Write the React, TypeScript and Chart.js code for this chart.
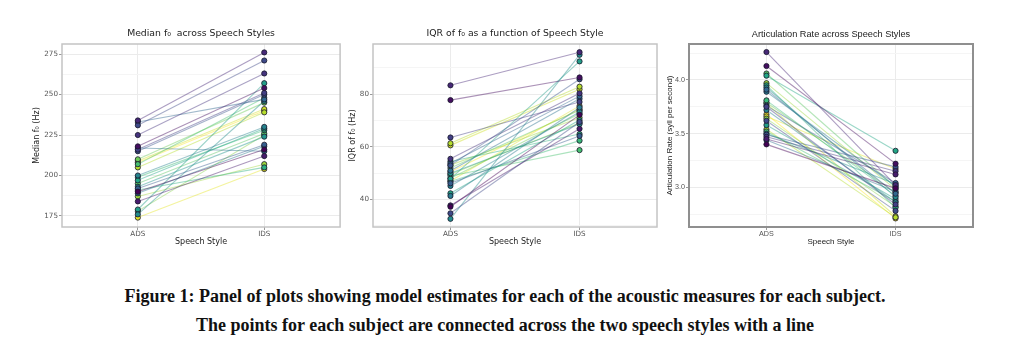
import React, { useEffect, useRef } from 'react';
import { Chart, registerables } from 'chart.js';

Chart.register(...registerables);

// ---------- data ----------
const speechStyles = ['ADS', 'IDS'];

const medianTicks = [175, 200, 225, 250, 275];
const medianMinorTicks = [187.5, 212.5, 237.5, 262.5];
const medianADS = [190, 218, 184, 234, 225, 216, 231, 215, 192, 233, 217, 189, 200, 176, 193, 179, 197, 191, 199, 207, 195, 210, 178, 187, 205, 209, 174, 208];
const medianIDS = [216, 254, 212, 276, 263, 251, 271, 250, 219, 247, 215, 218, 230, 246, 224, 257, 229, 205, 228, 248, 226, 245, 225, 207, 239, 241, 204, 240];

const iqrTicks = [40, 60, 80];
const iqrMinorTicks = [30, 50, 70, 90];
const iqrADS = [37.2, 77.7, 37.7, 83.3, 55.4, 63.5, 34.7, 52.9, 46.1, 53.7, 50.9, 41.3, 45.1, 32.6, 49.9, 47.8, 42.3, 54.4, 46.8, 48.9, 51.9, 48.0, 49.5, 53.0, 61.3, 60.5, 47.0, 50.5];
const iqrIDS = [72.1, 86.3, 66.8, 95.9, 80.3, 77.0, 69.4, 85.6, 64.1, 79.2, 78.2, 74.9, 73.2, 94.9, 68.6, 92.4, 70.1, 64.8, 62.3, 58.7, 73.8, 72.5, 69.0, 71.0, 82.8, 81.8, 75.5, 74.2];

const rateTicks = [3.0, 3.5, 4.0];
const rateMinorTicks = [2.75, 3.25, 3.75, 4.25];
const rateADS = [3.40, 4.13, 3.45, 4.26, 3.47, 3.75, 3.62, 3.49, 3.76, 3.91, 3.44, 3.89, 3.72, 3.93, 3.50, 3.58, 4.04, 3.95, 3.81, 3.52, 4.06, 3.79, 3.64, 3.97, 3.54, 3.78, 3.66, 3.68];
const rateIDS = [2.99, 3.22, 3.12, 3.02, 3.15, 2.84, 2.78, 3.19, 3.04, 2.94, 2.96, 3.01, 2.86, 2.91, 3.03, 2.89, 3.34, 2.81, 2.92, 2.87, 3.00, 2.95, 2.82, 2.98, 2.72, 2.73, 3.17, 2.71];

// ---------- styling helpers ----------
const viridisStops = ['#440154', '#482475', '#414487', '#355f8d', '#2a788e', '#21918c', '#22a884', '#44bf70', '#7ad151', '#bddf26', '#fde725'];

function hexToRgb(h: string) {
  const n = parseInt(h.slice(1), 16);
  return [(n >> 16) & 255, (n >> 8) & 255, n & 255];
}
function viridis(t: number, a = 1) {
  const p = Math.max(0, Math.min(1, t)) * (viridisStops.length - 1);
  const i = Math.min(Math.floor(p), viridisStops.length - 2);
  const f = p - i;
  const c0 = hexToRgb(viridisStops[i]);
  const c1 = hexToRgb(viridisStops[i + 1]);
  const c = c0.map((v, k) => Math.round(v + (c1[k] - v) * f));
  return `rgba(${c[0]},${c[1]},${c[2]},${a})`;
}

type PanelCfg = {
  left: number;
  width: number;
  yAxisWidth: number;
  yTitlePad: number;
  padRight: number;
  title: string;
  yTitle: string;
  ads: number[];
  ids: number[];
  majors: number[];
  minors: number[];
  min: number;
  max: number;
  family: string;
  titleSize: number;
  tickSize: number;
  axisTitleSize: number;
  frameColor: string;
  frameWidth: number;
  decimals: number;
};

const CANVAS_H = 260;

const panels: PanelCfg[] = [
  {
    left: 0, width: 345, yAxisWidth: 62, yTitlePad: 32, padRight: 4,
    title: 'Median f\u2080  across Speech Styles', yTitle: 'Median f\u2080 (Hz)',
    ads: medianADS, ids: medianIDS, majors: medianTicks, minors: medianMinorTicks,
    min: 168.2, max: 281.2, family: '"DejaVu Sans", sans-serif',
    titleSize: 9.3, tickSize: 7.2, axisTitleSize: 8, frameColor: '#c4c4c4', frameWidth: 1.5, decimals: 0,
  },
  {
    left: 345, width: 317, yAxisWidth: 28, yTitlePad: 3, padRight: 5,
    title: 'IQR of f\u2080 as a function of Speech Style', yTitle: 'IQR of f\u2080 (Hz)',
    ads: iqrADS, ids: iqrIDS, majors: iqrTicks, minors: iqrMinorTicks,
    min: 29.5, max: 99, family: '"DejaVu Sans", sans-serif',
    titleSize: 9.3, tickSize: 7.2, axisTitleSize: 8, frameColor: '#c4c4c4', frameWidth: 1.5, decimals: 0,
  },
  {
    left: 662, width: 318, yAxisWidth: 27, yTitlePad: 2.5, padRight: 7,
    title: 'Articulation Rate across Speech Styles', yTitle: 'Articulation Rate (syll per second)',
    ads: rateADS, ids: rateIDS, majors: rateTicks, minors: rateMinorTicks,
    min: 2.63, max: 4.335, family: '"Liberation Sans", Arial, sans-serif',
    titleSize: 9.2, tickSize: 7.2, axisTitleSize: 8, frameColor: '#8f8f8f', frameWidth: 2, decimals: 1,
  },
];

const framePlugin = {
  id: 'panelFrame',
  afterDatasetsDraw(chart: any, _args: any, opts: any) {
    const { left, top, right, bottom } = chart.chartArea;
    const ctx = chart.ctx;
    ctx.save();
    ctx.strokeStyle = opts.color;
    ctx.lineWidth = opts.width;
    ctx.strokeRect(left, top, right - left, bottom - top);
    ctx.restore();
  },
};

const titlePlugin = {
  id: 'panelTitle',
  afterDraw(chart: any, _args: any, opts: any) {
    const { left, right } = chart.chartArea;
    const ctx = chart.ctx;
    ctx.save();
    ctx.font = `${opts.size}px ${opts.family}`;
    ctx.fillStyle = '#222';
    ctx.textAlign = 'center';
    ctx.textBaseline = 'middle';
    ctx.fillText(opts.text, (left + right) / 2, opts.y);
    ctx.restore();
  },
};

function Panel({ cfg }: { cfg: PanelCfg }) {
  const ref = useRef<HTMLCanvasElement>(null);
  useEffect(() => {
    if (!ref.current) return;
    const n = cfg.ads.length;
    const lineSets: any[] = [];
    const pointSets: any[] = [];
    for (let i = 0; i < n; i++) {
      const t = i / (n - 1);
      const data = [
        { x: 1, y: cfg.ads[i] },
        { x: 2, y: cfg.ids[i] },
      ];
      lineSets.push({
        data,
        showLine: true,
        borderColor: viridis(t, 0.45),
        borderWidth: 1.1,
        pointRadius: 0,
        order: 2,
      });
      pointSets.push({
        data,
        showLine: false,
        pointRadius: 2.6,
        pointBackgroundColor: viridis(t, 1),
        pointBorderColor: 'rgba(25,25,45,0.9)',
        pointBorderWidth: 0.9,
        order: 1,
      });
    }
    const allTicks = [...cfg.majors, ...cfg.minors].sort((a, b) => a - b);
    const isMajor = (v: number) => cfg.majors.some((m) => Math.abs(m - v) < 1e-6);
    const font = (size: number) => ({ family: cfg.family, size });

    const chart = new Chart(ref.current, {
      type: 'scatter',
      data: { datasets: [...pointSets, ...lineSets] },
      options: {
        animation: false,
        responsive: false,
        devicePixelRatio: 1,
        layout: { padding: { left: 0, right: cfg.padRight, top: 44, bottom: 13 } },
        plugins: {
          legend: { display: false },
          tooltip: { enabled: false },
          title: { display: false },
          panelFrame: { color: cfg.frameColor, width: cfg.frameWidth },
          panelTitle: { text: cfg.title, size: cfg.titleSize, family: cfg.family, y: 34 },
        } as any,
        scales: {
          x: {
            type: 'linear',
            min: 0.4,
            max: 2.6,
            afterBuildTicks: (s: any) => {
              s.ticks = speechStyles.map((_, i) => ({ value: i + 1 }));
            },
            afterFit: (s: any) => {
              s.height = 20;
            },
            ticks: {
              callback: (v: any) => speechStyles[Math.round(Number(v)) - 1] ?? '',
              font: font(cfg.tickSize),
              color: '#555',
              padding: 0,
              autoSkip: false,
              maxRotation: 0,
            },
            grid: { color: '#ebebeb', tickColor: '#999', tickLength: 3, lineWidth: 1 },
            border: { display: false },
            title: {
              display: true,
              text: 'Speech Style',
              font: font(cfg.axisTitleSize),
              color: '#222',
              padding: 0,
            },
          },
          y: {
            type: 'linear',
            min: cfg.min,
            max: cfg.max,
            afterBuildTicks: (s: any) => {
              s.ticks = allTicks.map((v) => ({ value: v }));
            },
            afterFit: (s: any) => {
              s.width = cfg.yAxisWidth;
            },
            ticks: {
              callback: (v: any) => (isMajor(Number(v)) ? Number(v).toFixed(cfg.decimals) : ''),
              font: font(cfg.tickSize),
              color: '#555',
              padding: 1,
              autoSkip: false,
            },
            grid: {
              color: (c: any) => (c.tick && isMajor(c.tick.value) ? '#ebebeb' : '#f5f5f5'),
              tickColor: (c: any) => (c.tick && isMajor(c.tick.value) ? '#999' : 'rgba(0,0,0,0)'),
              tickLength: 3,
              lineWidth: 1,
            },
            border: { display: false },
            title: {
              display: true,
              text: cfg.yTitle,
              font: font(cfg.axisTitleSize),
              color: '#222',
              padding: { top: cfg.yTitlePad, bottom: 0 },
            },
          },
        },
      },
      plugins: [framePlugin, titlePlugin],
    } as any);
    return () => chart.destroy();
  }, [cfg]);

  return (
    <canvas
      ref={ref}
      width={cfg.width}
      height={CANVAS_H}
      style={{ position: 'absolute', left: cfg.left, top: 0, width: cfg.width, height: CANVAS_H }}
    />
  );
}

const captionLines = [
  'Figure 1: Panel of plots showing model estimates for each of the acoustic measures for each subject.',
  'The points for each subject are connected across the two speech styles with a line',
];

export default function App() {
  return (
    <div style={{ position: 'absolute', left: 0, top: 0, width: 1024, height: 353, background: '#fff', overflow: 'hidden' }}>
      {panels.map((p, i) => (
        <Panel key={i} cfg={p} />
      ))}
      {captionLines.map((line, i) => (
        <div
          key={i}
          style={{
            position: 'absolute',
            left: -7,
            width: 1024,
            top: 284 + i * 29,
            height: 24,
            lineHeight: '24px',
            textAlign: 'center',
            fontFamily: '"Liberation Serif", "Times New Roman", serif',
            fontWeight: 'bold',
            fontSize: 18,
            color: '#111',
            whiteSpace: 'nowrap',
          }}
        >
          {line}
        </div>
      ))}
    </div>
  );
}
